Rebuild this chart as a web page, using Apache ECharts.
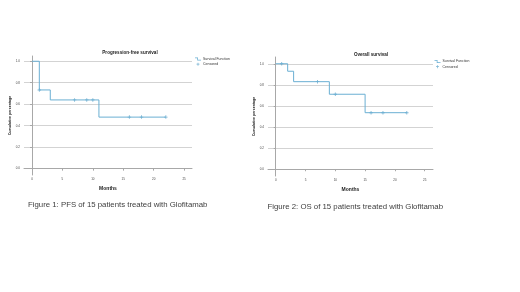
<!DOCTYPE html>
<html>
<head>
<meta charset="utf-8">
<script src="https://cdn.jsdelivr.net/npm/echarts@6/dist/echarts.min.js"></script>
<style>
  html, body { margin: 0; padding: 0; background: #fff; }
  #chartmain { width: 520px; height: 292px; }
</style>
</head>
<body>
<div id="chartmain"></div>
<script>
// Kaplan-Meier steps: month of event, survival after it
var pfsMonths = [0, 1.2, 3, 11, 22];
var pfsSurvival = [1.0, 0.733, 0.64, 0.48, 0.48];
var pfsCensored = [1.2, 7, 9, 10, 16, 18, 22];

var osMonths = [0, 2, 3, 9, 15, 22];
var osSurvival = [1.0, 0.929, 0.83, 0.711, 0.536, 0.536];
var osCensored = [1, 7, 10, 16, 18, 22];

var monthTicks = [0, 5, 10, 15, 20, 25];
var pctTicks = [0, 0.2, 0.4, 0.6, 0.8, 1.0];

var lineColor = '#6aafd3';
var markColor = '#5aa2c9';
var plusPath = 'path://M3,0h2v3h3v2h-3v3h-2v-3h-3v-2h3z';
var stepIcon = 'path://M0,0h4v3h4v1h-5v-3h-3z';

function stepData(months, surv) {
  return months.map(function (m, i) { return [m, surv[i]]; });
}
// censored marks sit on the curve at their month
function censorData(times, months, surv) {
  return times.map(function (t) {
    var v = surv[0];
    for (var i = 0; i < months.length; i++) {
      if (months[i] <= t) v = surv[i];
    }
    return [t, v];
  });
}

function xAxisOf(idx, min, max) {
  return {
    gridIndex: idx, type: 'value', min: min, max: max,
    name: 'Months', nameLocation: 'middle', nameGap: 11,
    nameTextStyle: { fontSize: 5, fontWeight: 'bold', color: '#222', fontFamily: 'Liberation Sans' },
    axisLine: { show: true, lineStyle: { color: '#a8a8a8', width: 1 } },
    axisTick: { show: true, length: 2, customValues: monthTicks, lineStyle: { color: '#a8a8a8' } },
    axisLabel: { customValues: monthTicks, fontSize: 3, margin: 3, color: '#444', fontFamily: 'Liberation Sans' },
    splitLine: { show: false }
  };
}
function yAxisOf(idx, min, max) {
  return {
    gridIndex: idx, type: 'value', min: min, max: max,
    name: 'Cumulative percentage', nameLocation: 'middle', nameGap: 11,
    nameTextStyle: { fontSize: 3.6, fontWeight: 'bold', color: '#222', fontFamily: 'Liberation Sans' },
    axisLine: { show: true, lineStyle: { color: '#a8a8a8', width: 1 } },
    axisTick: { show: true, length: 2, customValues: pctTicks, lineStyle: { color: '#a8a8a8' } },
    axisLabel: {
      customValues: pctTicks, fontSize: 3, margin: 4, color: '#444', fontFamily: 'Liberation Sans',
      formatter: function (v) { return v.toFixed(1); }
    },
    splitLine: { show: true, customValues: pctTicks, lineStyle: { color: '#d3d3d3', width: 1 } }
  };
}

function legendAt(left, top) {
  return {
    data: [{ name: 'Survival Function', icon: stepIcon }, { name: 'Censored', icon: plusPath }],
    orient: 'vertical', left: left, top: top,
    itemWidth: 6, itemHeight: 3, itemGap: 1.2, padding: 0,
    textStyle: { fontSize: 3.5, color: '#333', fontFamily: 'Liberation Sans', padding: [0, 0, 0, -3] }
  };
}

var option = {
  backgroundColor: '#fff',
  animation: false,
  title: [
    { text: 'Progression-free survival', left: 130, top: 49.8, textAlign: 'center', padding: 0,
      textStyle: { fontSize: 4.6, fontWeight: 'bold', color: '#222', fontFamily: 'Liberation Sans' } },
    { text: 'Overall survival', left: 371, top: 52.2, textAlign: 'center', padding: 0,
      textStyle: { fontSize: 4.6, fontWeight: 'bold', color: '#222', fontFamily: 'Liberation Sans' } },
    { text: 'Figure 1: PFS of 15 patients treated with Glofitamab', left: 28, top: 200.8, padding: 0,
      textStyle: { fontSize: 7.8, fontWeight: 'normal', color: '#404040', fontFamily: 'Liberation Sans' } },
    { text: 'Figure 2: OS of 15 patients treated with Glofitamab', left: 267.5, top: 203.2, padding: 0,
      textStyle: { fontSize: 7.8, fontWeight: 'normal', color: '#404040', fontFamily: 'Liberation Sans' } }
  ],
  legend: [legendAt(195, 57), legendAt(434.5, 59.5)],
  grid: [
    { left: 24, top: 56, width: 168, height: 119 },
    { left: 268, top: 57, width: 165, height: 119 }
  ],
  xAxis: [xAxisOf(0, -1.32, 26.3), xAxisOf(1, -1.3, 26.4)],
  yAxis: [yAxisOf(0, -0.059, 1.049), yAxisOf(1, -0.064, 1.064)],
  series: [
    { name: 'Survival Function', type: 'line', step: 'end', xAxisIndex: 0, yAxisIndex: 0,
      data: stepData(pfsMonths, pfsSurvival), showSymbol: false, symbol: 'none',
      lineStyle: { color: lineColor, width: 1 }, itemStyle: { color: lineColor } },
    { name: 'Censored', type: 'scatter', xAxisIndex: 0, yAxisIndex: 0,
      data: censorData(pfsCensored, pfsMonths, pfsSurvival),
      symbol: plusPath, symbolSize: 3.5, itemStyle: { color: markColor } },
    { name: 'Survival Function', type: 'line', step: 'end', xAxisIndex: 1, yAxisIndex: 1,
      data: stepData(osMonths, osSurvival), showSymbol: false, symbol: 'none',
      lineStyle: { color: lineColor, width: 1 }, itemStyle: { color: lineColor } },
    { name: 'Censored', type: 'scatter', xAxisIndex: 1, yAxisIndex: 1,
      data: censorData(osCensored, osMonths, osSurvival),
      symbol: plusPath, symbolSize: 3.5, itemStyle: { color: markColor } }
  ]
};

var chartmain = echarts.init(document.getElementById('chartmain'));
chartmain.setOption(option);
</script>
</body>
</html>
